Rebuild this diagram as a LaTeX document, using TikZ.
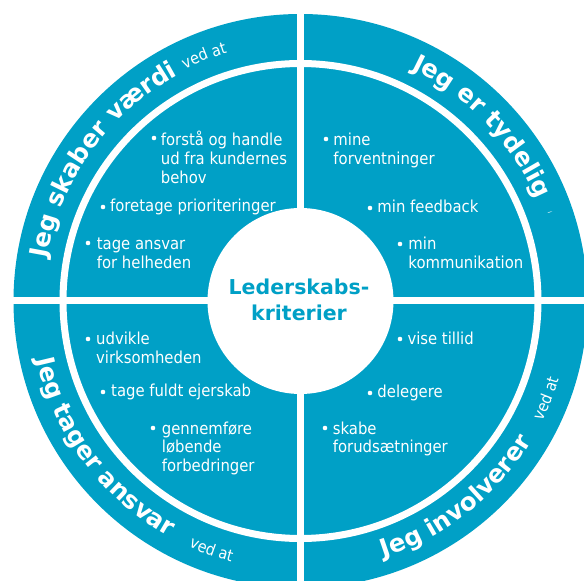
\documentclass[tikz,border=0pt]{standalone}
\usepackage{fontspec}
\setmainfont{DejaVu Sans}
\newfontfamily\condfont{DejaVu Sans Condensed}
\usetikzlibrary{decorations.text}
\definecolor{ringblue}{RGB}{0,160,198}
\newcommand\arcbf{\bfseries\fontsize{24.5}{24.5}\selectfont}
\newcommand\arcved{\condfont\fontsize{16}{16}\selectfont}
\newcommand\itemlines[1]{\begin{tabular}[t]{@{}l@{}}#1\end{tabular}}
\begin{document}
\begin{tikzpicture}[x=1pt,y=1pt,
  gap/.style={white, line width=7pt},
  item/.style={anchor=base west, inner sep=0pt, text=white, font=\condfont\fontsize{16.5}{18.8}\selectfont},
  dot/.style={circle, fill=white, inner sep=0pt, minimum size=4.6pt},
  arctext/.style={decorate, decoration={text along path, text color=white, text={#1}}},
]
\useasboundingbox (-300.5pt,-280pt) rectangle (283.5pt,301pt);
\fill[white] (-300.5pt,-280pt) rectangle (283.5pt,301pt);
% rings
\fill[ringblue] (0,0) circle[radius=287pt];
\draw[gap] (0,0) circle[radius=237.5pt];
\draw[gap] (-295pt,0) -- (295pt,0);
\draw[gap] (0,-295pt) -- (0,295pt);
\fill[white] (0,0) circle[radius=93pt];
% centre
\node[align=center, inner sep=0pt, text=ringblue, font=\bfseries\fontsize{20.5}{26}\selectfont] (centre) at (-1.5,0.8) {Lederskabs-\\kriterier};
% arc titles
\path[arctext={|\arcbf|Jeg skaber værdi}] (170.5:257pt) arc[start angle=170.5, end angle=60, radius=257pt];
\path[arctext={|\arcved|ved at}] (116.5:259pt) arc[start angle=116.5, end angle=80, radius=259pt];
\path[arctext={|\arcbf|Jeg er tydelig}] (64.5:257pt) arc[start angle=64.5, end angle=-10, radius=257pt];
\path[arctext={|\arcbf|Jeg tager ansvar}] (192.5:270pt) arc[start angle=192.5, end angle=280, radius=270pt];
\path[arctext={|\arcved|ved at}] (245.5:270pt) arc[start angle=245.5, end angle=280, radius=270pt];
\path[arctext={|\arcbf|Jeg involverer}] (-72:270pt) arc[start angle=-72, end angle=10, radius=270pt];
\path[arctext={|\arcved|ved at}] (-26.5:270pt) arc[start angle=-26.5, end angle=10, radius=270pt];
\node[rotate=-70.4, inner sep=0pt, text=white, font=\fontsize{6}{6}\selectfont] (tinyi) at (19.6:265pt) {i};
% top left
\node[dot] (d1) at (-146.5,163) {};
\node[item] (t1) at (-139.8,155.3) {\itemlines{forstå og handle\\ud fra kundernes\\behov}};
\node[dot] (d2) at (-197.5,94) {};
\node[item] (t2) at (-190.5,89) {\itemlines{foretage prioriteringer}};
\node[dot] (d3) at (-212.5,58) {};
\node[item] (t3) at (-203.8,51) {\itemlines{tage ansvar\\for helheden}};
% top right
\node[dot] (d4) at (25.5,162) {};
\node[item] (t4) at (32.8,155.3) {\itemlines{mine\\forventninger}};
\node[dot] (d5) at (69.5,93) {};
\node[item] (t5) at (76.8,88) {\itemlines{min feedback}};
\node[dot] (d6) at (99.5,57) {};
\node[item] (t6) at (107.8,51) {\itemlines{min\\kommunikation}};
% bottom left
\node[dot] (d7) at (-212.5,-38) {};
\node[item] (t7) at (-204.5,-44) {\itemlines{udvikle\\virksomheden}};
\node[dot] (d8) at (-197.5,-91) {};
\node[item] (t8) at (-189.5,-95.7) {\itemlines{tage fuldt ejerskab}};
\node[dot] (d9) at (-147.5,-127) {};
\node[item] (t9) at (-138.8,-133) {\itemlines{gennemføre\\løbende\\forbedringer}};
% bottom right
\node[dot] (d10) at (99.5,-38) {};
\node[item] (t10) at (106.8,-43.3) {\itemlines{vise tillid}};
\node[dot] (d11) at (69.5,-92) {};
\node[item] (t11) at (76.8,-96.7) {\itemlines{delegere}};
\node[dot] (d12) at (24.5,-127) {};
\node[item] (t12) at (32.2,-133) {\itemlines{skabe\\forudsætninger}};
\end{tikzpicture}
\end{document}
